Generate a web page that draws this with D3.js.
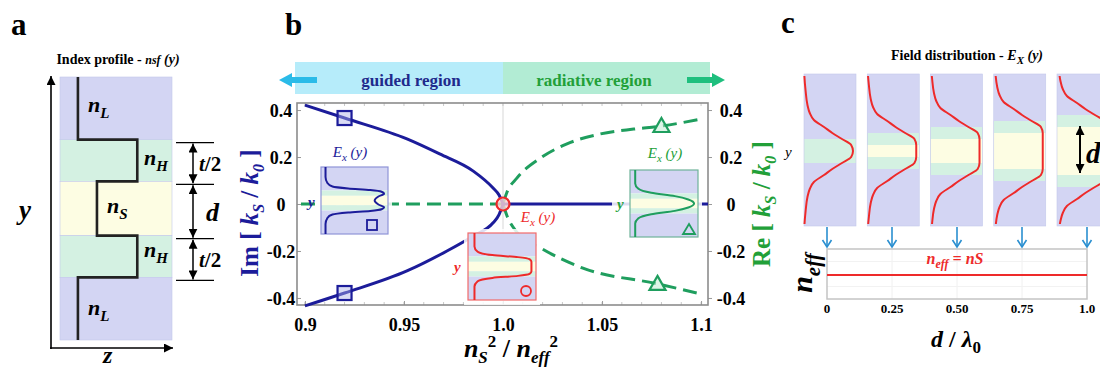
<!DOCTYPE html>
<html><head><meta charset="utf-8">
<script src="https://cdn.jsdelivr.net/npm/d3@7"></script>
<style>body{margin:0;background:#fff}</style>
</head><body><div id="fig"></div>
<script>
// ---------- data ----------
// panel a : layer stack (top -> bottom), relative index and thickness
var layerNames = ["L","H","S","H","L"];
var layerIndex = [0.16, 0.69, 0.33, 0.69, 0.16];
var layerThick = [1.5, 1, 1.3, 1, 1.5];

// panel b : Im / Re of kS/k0 versus nS^2/neff^2
var imUpper = [[0.9,0.421],[0.92,0.366],[0.9515,0.277],[0.968,0.213],[0.985,0.14],[0.995,0.068],[0.998,0.038],[1.0,0]];
var imLower = [[0.9,-0.434],[0.92,-0.379],[0.9515,-0.285],[0.9717,-0.2],[0.985,-0.136],[0.995,-0.08],[0.998,-0.045],[1.0,0]];
var imFlat  = [[1.0,0],[1.1035,0]];
var reUpper = [[1.0,0],[1.002,0.05],[1.007,0.11],[1.019,0.196],[1.032,0.255],[1.049,0.298],[1.066,0.319],[1.08,0.332],[1.099,0.36]];
var reLower = [[1.0,0],[1.002,-0.05],[1.007,-0.12],[1.019,-0.187],[1.04,-0.272],[1.078,-0.34],[1.098,-0.379]];
var reFlat  = [[0.898,0],[1.0,0]];
var squareMarks = [[0.92,0.366],[0.92,-0.379]];
var triMarks = [[1.08,0.332],[1.078,-0.34]];
var circleMark = [1.0,0];
var xTicks = [0.9,0.95,1.0,1.05,1.1];
var xTickLabels = ["0.9","0.95","1.0","1.05","1.1"];
var yTicks = [-0.4,-0.2,0,0.2,0.4];
var yTickLabels = ["-0.4","-0.2","0","0.2","0.4"];

// inset field profiles: [relative y (0..0.5), amplitude]
var insetBlue  = [[0,0.04],[0.15,0.04],[0.24,0.07],[0.29,0.15],[0.32,0.4],[0.345,0.75],[0.37,0.93],[0.4,0.97],[0.44,0.88],[0.5,0.82]];
var insetRed   = [[0,0.07],[0.2,0.07],[0.28,0.12],[0.33,0.35],[0.36,0.75],[0.39,0.93],[0.43,0.96],[0.5,0.96]];
var insetGreen = [[0,0.05],[0.2,0.05],[0.28,0.1],[0.34,0.3],[0.39,0.67],[0.44,0.88],[0.5,0.97]];

// panel c : field distributions for d/lambda0
var dValues = [0, 0.25, 0.5, 0.75, 1.0];
var dTickLabels = ["0","0.25","0.50","0.75","1.0"];
var fieldOffset = [0, 6, 12, 18, 24, 31, 38, 46, 60, 80, 100];
var fieldAmp    = [1, 0.96, 0.76, 0.55, 0.37, 0.15, 0.06, 0.01, -0.03, -0.06, -0.06];
var neffLevel = 0.48;

// ---------- drawing ----------
var SERIF = "'Liberation Serif', 'Times New Roman', serif";
var LAV = "#d3d5f3", GRN = "#d4f1e2", YEL = "#fdfde3";
var NAVY = "#1c1c9a", GLINE = "#1f9e5e", GTXT = "#22a038", RED = "#ee2a2a";

var svg = d3.select("#fig").append("svg")
  .attr("width",1100).attr("height",368);

var defs = svg.append("defs");
defs.append("marker").attr("id","ah").attr("viewBox","0 0 10 10")
  .attr("refX",10).attr("refY",5).attr("markerWidth",9).attr("markerHeight",9)
  .attr("markerUnits","userSpaceOnUse").attr("orient","auto-start-reverse")
  .append("path").attr("d","M0,0 L10,5 L0,10 Z").attr("fill","#000");

// rich text: parts {t, i(italic), sub, sup, s(size)}
function rich(sel, parts, base){
  var off = 0;
  parts.forEach(function(p){
    var target = p.sub ? base*0.25 : (p.sup ? -base*0.45 : 0);
    var ts = sel.append("tspan").text(p.t).attr("dy", target-off);
    off = target;
    if (p.i) ts.style("font-style","italic");
    if (p.s) ts.style("font-size", p.s+"px");
  });
  return sel;
}
function label(x,y,size,color,anchor){
  return svg.append("text").attr("x",x).attr("y",y)
    .style("font-family",SERIF).style("font-weight","bold").style("font-size",size+"px")
    .attr("fill",color||"#000").attr("text-anchor",anchor||"start");
}

// ===== panel a =====
label(11,35,31).text("a");
rich(label(118,64,14,"#000","middle"),[{t:"Index profile - "},{t:"nsf",i:1,s:12},{t:" (y)",i:1}],14);

var totalT = d3.sum(layerThick);
var yA = d3.scaleLinear().domain([0,totalT]).range([77,340]);
var xA = d3.scaleLinear().domain([0,1]).range([60,172]);
var bounds = [0];
layerThick.forEach(function(t,i){ bounds.push(bounds[i]+t); });
var layerFill = {L:LAV, H:GRN, S:YEL};
var ga = svg.append("g");
layerNames.forEach(function(n,i){
  ga.append("rect").attr("x",xA(0)).attr("width",xA(1)-xA(0))
    .attr("y",yA(bounds[i])).attr("height",yA(bounds[i+1])-yA(bounds[i]))
    .attr("fill",layerFill[n]).attr("stroke","#c4c8ec").attr("stroke-width",0.6);
});
var stepPts = [];
layerNames.forEach(function(n,i){
  stepPts.push([layerIndex[i], bounds[i]]);
  stepPts.push([layerIndex[i], bounds[i+1]]);
});
ga.append("path").datum(stepPts)
  .attr("d", d3.line().x(function(d){return xA(d[0]);}).y(function(d){return yA(d[1]);}))
  .attr("fill","none").attr("stroke","#222").attr("stroke-width",2.6);
// labels of layers
var labY = [112,165,213,257,315];
var labX = [88,144,107,144,88];
layerNames.forEach(function(n,i){
  rich(label(labX[i],labY[i],22),[{t:"n",i:1},{t:n,i:1,sub:1,s:15}],22);
});
// axes
svg.append("line").attr("x1",51).attr("y1",349).attr("x2",51).attr("y2",76)
  .attr("stroke","#000").attr("stroke-width",1.6).attr("marker-end","url(#ah)");
svg.append("line").attr("x1",50).attr("y1",348).attr("x2",173).attr("y2",348)
  .attr("stroke","#000").attr("stroke-width",1.6).attr("marker-end","url(#ah)");
label(19,219,27).style("font-style","italic").text("y");
label(103,363,24).style("font-style","italic").text("z");
// dimensions
var dimY = bounds.slice(1,5).map(function(b){ return yA(b)+3; });
dimY.forEach(function(y){
  svg.append("line").attr("x1",176).attr("x2",214).attr("y1",y).attr("y2",y)
    .attr("stroke","#000").attr("stroke-width",1.3);
});
for (var k=0;k<3;k++){
  svg.append("line").attr("x1",193).attr("x2",193).attr("y1",dimY[k]+1).attr("y2",dimY[k+1]-1)
    .attr("stroke","#000").attr("stroke-width",1.5)
    .attr("marker-start","url(#ah)").attr("marker-end","url(#ah)");
}
rich(label(199,171,21),[{t:"t",i:1},{t:"/2"}],21);
label(206,221,26).style("font-style","italic").text("d");
rich(label(199,267,21),[{t:"t",i:1},{t:"/2"}],21);

// ===== panel b =====
label(285,35,31).text("b");
var xB = d3.scaleLinear().domain([0.896,1.1035]).range([297,708]);
var yB = d3.scaleLinear().domain([-0.43,0.43]).range([305,103]);

// banner
svg.append("rect").attr("x",295).attr("y",62).attr("width",xB(1.0)-295).attr("height",32).attr("fill","#b6ecfa");
svg.append("rect").attr("x",xB(1.0)).attr("y",62).attr("width",710-xB(1.0)).attr("height",32).attr("fill","#b2ecd4");
label(411,86,17,"#1f2a8c","middle").text("guided region");
label(594,86,17,GTXT,"middle").text("radiative region");
svg.append("path").attr("d","M279,80 L292,73 L292,77 L317,77 L317,83 L292,83 L292,87 Z").attr("fill","#2bbbe8");
svg.append("path").attr("d","M725,80 L712,73 L712,77 L687,77 L687,83 L712,83 L712,87 Z").attr("fill","#1fbf7e");

// frame, grid, ticks
svg.append("line").attr("x1",xB(1.0)).attr("x2",xB(1.0)).attr("y1",103).attr("y2",305)
  .attr("stroke","#dedede").attr("stroke-width",1.2);
var minor = d3.range(0.9,1.1001,0.01);
svg.append("g").selectAll("line").data(minor).join("line")
  .attr("x1",function(d){return xB(d);}).attr("x2",function(d){return xB(d);})
  .attr("y1",103).attr("y2",106).attr("stroke","#c8c8c8");
svg.append("g").selectAll("line").data(minor).join("line")
  .attr("x1",function(d){return xB(d);}).attr("x2",function(d){return xB(d);})
  .attr("y1",302).attr("y2",305).attr("stroke","#c8c8c8");

var gL = svg.append("g").attr("transform","translate(297,0)")
  .call(d3.axisLeft(yB).tickValues(yTicks).tickSize(-4).tickFormat(function(d,i){return yTickLabels[i];}));
var gR = svg.append("g").attr("transform","translate(708,0)")
  .call(d3.axisRight(yB).tickValues(yTicks).tickSize(4).tickFormat(function(d,i){return yTickLabels[i];}));
var gB = svg.append("g").attr("transform","translate(0,305)")
  .call(d3.axisBottom(xB).tickValues(xTicks).tickSize(-4).tickFormat(function(d,i){return xTickLabels[i];}));
[gL,gR,gB].forEach(function(g){
  g.select(".domain").remove();
  g.selectAll("line").attr("stroke","#999");
  g.selectAll("text").attr("fill","#000")
    .style("font-family",SERIF).style("font-weight","bold").style("font-size","18px");
});
gL.selectAll("text").attr("x",-16).attr("dy","0.35em").attr("text-anchor","middle");
gR.selectAll("text").attr("x",23).attr("dy","0.35em").attr("text-anchor","middle");
gB.selectAll("text").attr("y",26).attr("dy",0);

svg.append("rect").attr("x",297).attr("y",103).attr("width",411).attr("height",202)
  .attr("fill","none").attr("stroke","#8c8c8c").attr("stroke-width",1.6);

var lineB = d3.line().x(function(d){return xB(d[0]);}).y(function(d){return yB(d[1]);}).curve(d3.curveMonotoneX);
[reFlat, reUpper, reLower].forEach(function(s){
  svg.append("path").datum(s).attr("d",lineB).attr("fill","none")
    .attr("stroke",GLINE).attr("stroke-width",3).attr("stroke-dasharray","14,7");
});
[imFlat, imUpper, imLower].forEach(function(s){
  svg.append("path").datum(s).attr("d",lineB).attr("fill","none")
    .attr("stroke",NAVY).attr("stroke-width",3);
});

// insets
function mirror(half){
  return half.concat(half.slice(0,-1).reverse().map(function(p){return [1-p[0],p[1]];}));
}
function inset(x0,y0,w,h,half,color,border,bgL,bgR){
  svg.append("rect").attr("x",x0-bgL).attr("y",y0-4).attr("width",w+bgL+bgR).attr("height",h+9)
    .attr("fill","#fff").attr("opacity",0.85);
  var yr = d3.scaleLinear().domain([0,1]).range([y0,y0+h]);
  var bands = [[0,0.35,LAV],[0.35,0.43,GRN],[0.43,0.57,YEL],[0.57,0.65,GRN],[0.65,1,LAV]];
  bands.forEach(function(b){
    svg.append("rect").attr("x",x0).attr("width",w).attr("y",yr(b[0])).attr("height",yr(b[1])-yr(b[0])).attr("fill",b[2]);
  });
  svg.append("rect").attr("x",x0).attr("y",y0).attr("width",w).attr("height",h)
    .attr("fill","none").attr("stroke",border).attr("stroke-width",1.2);
  var xr = d3.scaleLinear().domain([0,1]).range([x0+2,x0+w-2]);
  svg.append("path").datum(mirror(half))
    .attr("d",d3.line().x(function(d){return xr(d[1]);}).y(function(d){return yr(d[0]);}).curve(d3.curveMonotoneY))
    .attr("fill","none").attr("stroke",color).attr("stroke-width",2);
}
inset(321,167,67,67,insetBlue,NAVY,"#8f94d8",5,4);
inset(468,233,68,67,insetRed,RED,"#f26a6a",4,4);
inset(630,170,68,67,insetGreen,GLINE,"#6fb39a",18,4);

// inset labels
function exLabel(x,y,color){
  rich(label(x,y,15,color,"middle").style("font-weight","normal"),[{t:"E",i:1},{t:"x",i:1,sub:1,s:11},{t:" (y)",i:1}],15);
}
exLabel(350,157,NAVY);
exLabel(538,222,RED);
exLabel(665,158,GTXT);
label(308,207,15,NAVY).style("font-style","italic").text("y");
label(454,272,15,RED).style("font-style","italic").text("y");
label(617,209,15,GTXT).style("font-style","italic").text("y");

// small markers inside insets
svg.append("rect").attr("x",367).attr("y",220).attr("width",10).attr("height",10)
  .attr("fill","none").attr("stroke",NAVY).attr("stroke-width",1.8);
svg.append("circle").attr("cx",526).attr("cy",291).attr("r",5)
  .attr("fill","none").attr("stroke",RED).attr("stroke-width",1.8);
svg.append("path").attr("d","M689,224 L695,234 L683,234 Z")
  .attr("fill","none").attr("stroke",GLINE).attr("stroke-width",1.8);

// curve markers
svg.append("g").selectAll("rect").data(squareMarks).join("rect")
  .attr("x",function(d){return xB(d[0])-7;}).attr("y",function(d){return yB(d[1])-7;})
  .attr("width",14).attr("height",14).attr("fill","rgba(170,175,230,0.45)")
  .attr("stroke",NAVY).attr("stroke-width",2.2);
svg.append("g").selectAll("path").data(triMarks).join("path")
  .attr("d",function(d){var x=xB(d[0]),y=yB(d[1]);return "M"+x+","+(y-8)+" L"+(x+8)+","+(y+6)+" L"+(x-8)+","+(y+6)+" Z";})
  .attr("fill","rgba(190,235,210,0.5)").attr("stroke",GLINE).attr("stroke-width",2.2);
svg.append("circle").attr("cx",xB(circleMark[0])).attr("cy",yB(circleMark[1])).attr("r",6.5)
  .attr("fill","rgba(255,215,215,0.8)").attr("stroke",RED).attr("stroke-width",2.2);

// axis titles
rich(label(0,0,25,NAVY,"middle").attr("transform","translate(258,213) rotate(-90)"),
  [{t:"Im [ "},{t:"k",i:1},{t:"S",i:1,sub:1,s:16},{t:" / "},{t:"k",i:1},{t:"0",i:1,sub:1,s:16},{t:" ]"}],25);
rich(label(0,0,25,GTXT,"middle").attr("transform","translate(770,204) rotate(-90)"),
  [{t:"Re [ "},{t:"k",i:1},{t:"S",i:1,sub:1,s:16},{t:" / "},{t:"k",i:1},{t:"0",i:1,sub:1,s:16},{t:" ]"}],25);
rich(label(511,357,26,"#000","middle"),
  [{t:"n",i:1},{t:"S",i:1,sub:1,s:17},{t:"2",sup:1,s:17},{t:" / "},{t:"n",i:1},{t:"eff",i:1,sub:1,s:17},{t:"2",sup:1,s:17}],22);

// ===== panel c =====
label(781,33,31).text("c");
rich(label(967,60,14,"#000","middle"),[{t:"Field distribution - "},{t:"E",i:1},{t:"X",i:1,sub:1,s:11},{t:" (y)",i:1}],14);
label(785,157,15).style("font-style","italic").style("font-weight","normal").text("y");

var colCenter = d3.scaleLinear().domain([0,1]).range([830,1083]);
var dPx = d3.scaleLinear().domain([0,1]).range([0,24]);
var colW = 52, colTop = 74, colBot = 226, midY = 151, greenT = 12;
var fieldLine = d3.line().x(function(d){return d[0];}).y(function(d){return d[1];}).curve(d3.curveMonotoneY);
dValues.forEach(function(dv,i){
  var cx = colCenter(dv), x0 = cx-colW/2;
  var yt = midY-dPx(dv), yb = midY+dPx(dv);
  var g = svg.append("g");
  g.append("rect").attr("x",x0).attr("y",colTop).attr("width",colW).attr("height",colBot-colTop).attr("fill",LAV);
  g.append("rect").attr("x",x0).attr("y",yt-greenT).attr("width",colW).attr("height",yb-yt+2*greenT).attr("fill",GRN);
  if (dv>0) g.append("rect").attr("x",x0).attr("y",yt).attr("width",colW).attr("height",yb-yt).attr("fill",YEL);
  g.append("rect").attr("x",x0).attr("y",colTop).attr("width",colW).attr("height",colBot-colTop)
    .attr("fill","none").attr("stroke","#c4c8ec").attr("stroke-width",0.6);
  defs.append("clipPath").attr("id","cc"+i).append("rect")
    .attr("x",x0-2).attr("y",colTop+2).attr("width",colW+4).attr("height",colBot-colTop-4);
  var pts = [];
  for (var j=fieldOffset.length-1;j>=0;j--) pts.push([x0+3+fieldAmp[j]*46, yt-fieldOffset[j]]);
  for (var j2=(dv>0?0:1);j2<fieldOffset.length;j2++) pts.push([x0+3+fieldAmp[j2]*46, yb+fieldOffset[j2]]);
  g.append("path").datum(pts).attr("d",fieldLine).attr("clip-path","url(#cc"+i+")")
    .attr("fill","none").attr("stroke",RED).attr("stroke-width",2);
});
// d arrow in last column
svg.append("line").attr("x1",1080).attr("x2",1080).attr("y1",midY-dPx(1)-1).attr("y2",midY+dPx(1)-2)
  .attr("stroke","#000").attr("stroke-width",2)
  .attr("marker-start","url(#ah)").attr("marker-end","url(#ah)");
label(1086,163,29).style("font-style","italic").text("d");

// neff box
var xC = d3.scaleLinear().domain([0,1]).range([827,1087]);
var yN = d3.scaleLinear().domain([0,1]).range([299,249]);
svg.append("g").selectAll("line").data(dValues.slice(1,4)).join("line")
  .attr("x1",function(d){return xC(d);}).attr("x2",function(d){return xC(d);})
  .attr("y1",249).attr("y2",299).attr("stroke","#f0f0f0");
[0.25,0.75].forEach(function(v){
  svg.append("line").attr("x1",827).attr("x2",1087).attr("y1",yN(v)).attr("y2",yN(v)).attr("stroke","#f2f2f2");
});
svg.append("rect").attr("x",827).attr("y",249).attr("width",260).attr("height",50)
  .attr("fill","none").attr("stroke","#c4c4c4").attr("stroke-width",1.5);
svg.append("path").datum([[0,neffLevel],[1,neffLevel]])
  .attr("d",d3.line().x(function(d){return xC(d[0]);}).y(function(d){return yN(d[1]);}))
  .attr("stroke",RED).attr("stroke-width",2);
rich(label(955,264,16,RED,"middle"),[{t:"n",i:1},{t:"eff",i:1,sub:1,s:12},{t:" = nS",i:1}],16);

// arrows from columns to axis
var ga2 = svg.append("g").attr("stroke","#2a8fd0").attr("stroke-width",1.6).attr("fill","none");
dValues.forEach(function(dv){
  var x = xC(dv);
  ga2.append("line").attr("x1",x).attr("x2",x).attr("y1",227).attr("y2",247);
  ga2.append("path").attr("d","M"+(x-4.5)+",240 L"+x+",247 L"+(x+4.5)+",240");
});
svg.append("g").selectAll("text").data(dValues).join("text")
  .attr("x",function(d){return xC(d);}).attr("y",313).attr("text-anchor","middle")
  .style("font-family",SERIF).style("font-weight","bold").style("font-size","13px")
  .text(function(d,i){return dTickLabels[i];});
rich(label(956,347,24,"#000","middle"),[{t:"d",i:1},{t:" / "},{t:"λ",i:1},{t:"0",sub:1,s:17}],24);
rich(label(0,0,30,"#000","middle").attr("transform","translate(812,273) rotate(-90)"),
  [{t:"n",i:1},{t:"eff",i:1,sub:1,s:21}],30);
</script></body></html>
